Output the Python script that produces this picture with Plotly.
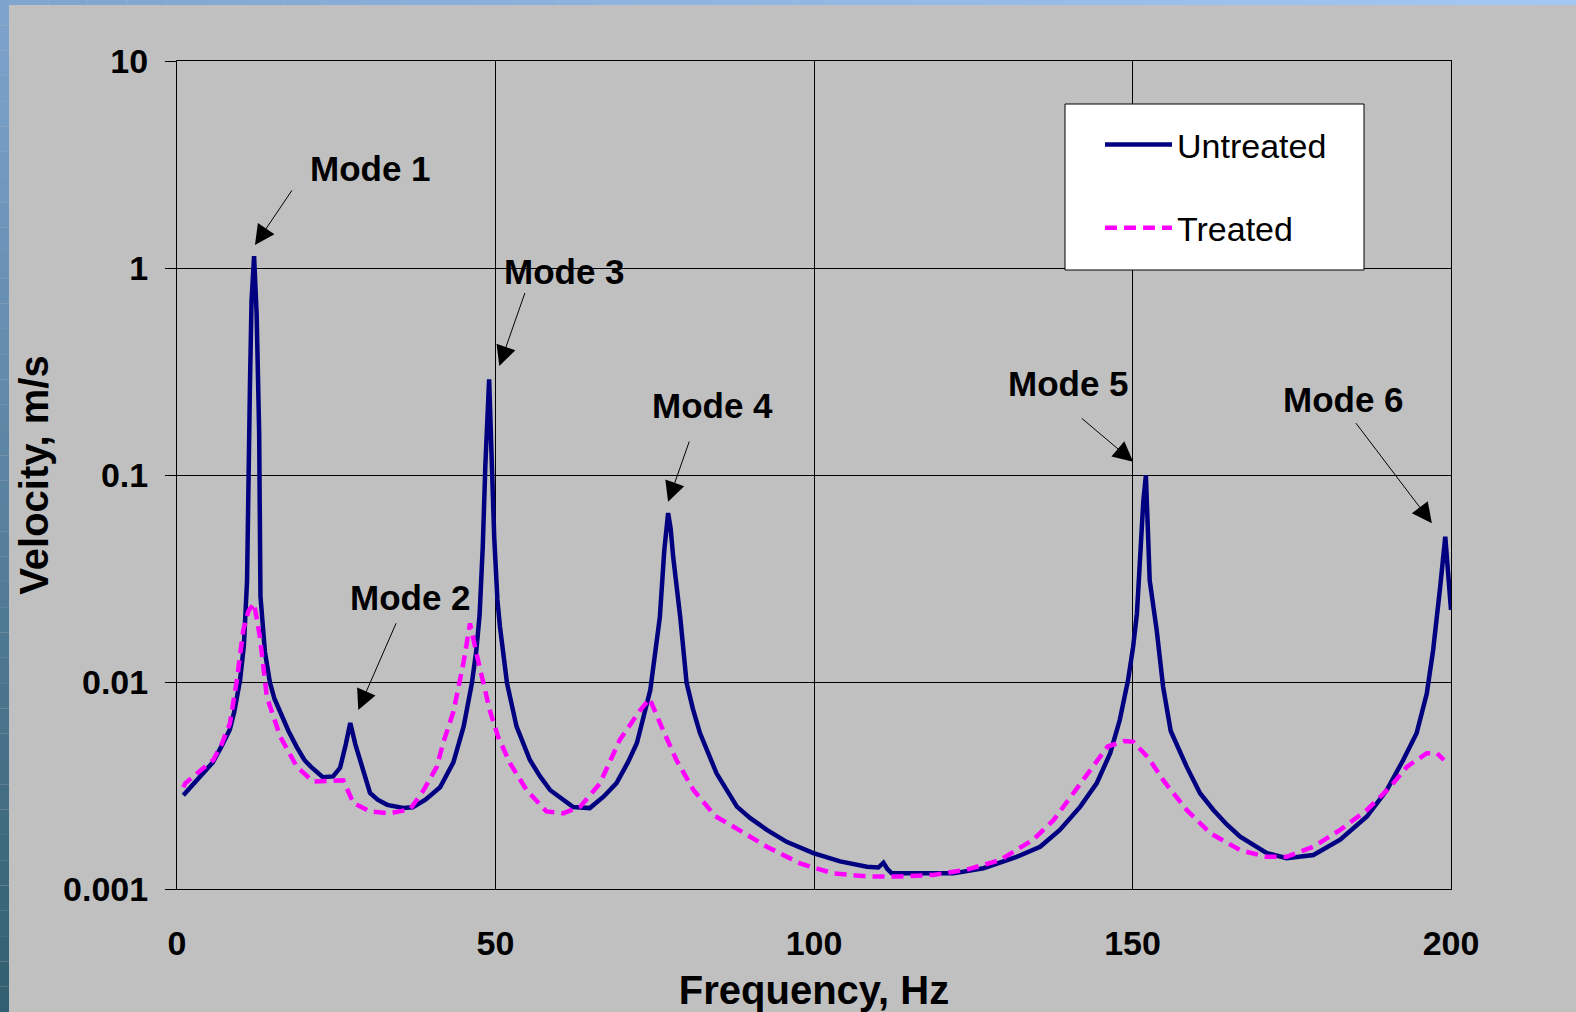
import numpy as np
import plotly.graph_objects as go

# ---------------- data ----------------
untreated_hz = [1.0, 2.5, 4.0, 5.65, 7.0, 8.3, 9.0, 9.9, 10.5, 11.0, 11.45, 11.7, 12.1, 12.5, 12.9, 13.1,
                13.8, 14.6, 15.3, 16.2, 17.5, 18.8, 20.0, 21.0, 22.9, 24.5, 25.6, 26.5, 27.2, 28.0, 28.7,
                30.3, 31.5, 33.0, 35.5, 37.0, 39.0, 41.3, 43.4, 45.0, 46.3, 47.0, 47.5, 48.0, 48.4, 49.0,
                49.4, 49.8, 50.3, 50.7, 51.8, 53.3, 55.4, 57.0, 58.6, 60.5, 62.2, 64.8, 67.0, 69.0, 70.8,
                72.2, 74.3, 75.8, 76.5, 77.1, 77.5, 77.9, 79.0, 80.0, 81.0, 82.1, 84.7, 87.9, 90.0, 92.6,
                95.7, 99.9, 104.1, 108.3, 110.1, 110.9, 111.5, 112.2, 121.9, 126.6, 131.8, 135.5, 138.6,
                141.8, 144.4, 146.5, 148.0, 149.3, 150.1, 150.7, 151.2, 151.7, 152.1, 152.4, 152.7, 153.8,
                154.8, 156.0, 158.5, 160.6, 162.7, 164.8, 166.9, 171.1, 174.2, 178.4, 182.6, 186.8, 189.9,
                192.5, 194.6, 196.2, 197.2, 198.3, 199.1, 200.0]
untreated_v = [0.00284, 0.0032, 0.0036, 0.0041, 0.0049, 0.0059, 0.0072, 0.0102, 0.015, 0.031, 0.27, 0.69,
               1.14, 0.6, 0.16, 0.026, 0.014, 0.0099, 0.0083, 0.0071, 0.0058, 0.00485, 0.0042, 0.0039,
               0.00347, 0.0035, 0.00385, 0.0050, 0.00634, 0.0050, 0.0042, 0.00291, 0.0027, 0.00255,
               0.00246, 0.00248, 0.0027, 0.0031, 0.0041, 0.0061, 0.0099, 0.0143, 0.021, 0.045, 0.11,
               0.29, 0.12, 0.05, 0.025, 0.0185, 0.0099, 0.0061, 0.0042, 0.0035, 0.0030, 0.0027, 0.00249,
               0.00246, 0.0028, 0.00325, 0.0041, 0.00507, 0.00914, 0.0206, 0.0434, 0.0655, 0.055, 0.040,
               0.0206, 0.0099, 0.0074, 0.00567, 0.00362, 0.0025, 0.0022, 0.00193, 0.00169, 0.00149,
               0.00136, 0.00128, 0.00127, 0.00134, 0.00125, 0.00119, 0.00119, 0.00126, 0.00143, 0.0016,
               0.00193, 0.0025, 0.00325, 0.00453, 0.00655, 0.0102, 0.0148, 0.0215, 0.045, 0.075, 0.0995,
               0.06, 0.031, 0.0178, 0.0095, 0.0058, 0.0039, 0.0029, 0.00241, 0.00205, 0.00179, 0.00149,
               0.00141, 0.00146, 0.00173, 0.00224, 0.003, 0.0042, 0.00565, 0.0088, 0.0143, 0.0288, 0.0503,
               0.0223]

treated_hz = [1.0, 1.3, 3.5, 5.7, 7.0, 8.3, 9.4, 10.4, 11.2, 12.1, 13.0, 14.1, 16.2, 18.8, 21.4, 24.5,
              26.1, 27.7, 30.3, 33.4, 36.6, 38.7, 40.8, 41.8, 43.4, 45.0, 46.0, 47.0, 48.1, 49.1, 50.4,
              52.3, 54.9, 58.0, 60.6, 63.3, 66.4, 69.5, 72.7, 74.2, 76.3, 78.4, 81.1, 84.5, 88.2, 92.6,
              97.8, 103.0, 108.3, 113.5, 118.7, 124.0, 129.2, 134.4, 137.6, 140.7, 144.0, 146.1, 148.7,
              150.1, 152.5, 155.0, 158.5, 162.2, 166.9, 171.1, 174.2, 178.4, 182.6, 186.8, 190.5, 193.1,
              196.2, 197.8, 198.9]
treated_v = [0.0031, 0.00324, 0.0037, 0.0042, 0.005, 0.0063, 0.0102, 0.0178, 0.022, 0.024, 0.0166,
             0.0085, 0.00545, 0.0039, 0.0033, 0.00335, 0.00335, 0.0026, 0.00237, 0.00232, 0.00243,
             0.003, 0.0039, 0.0051, 0.0072, 0.0125, 0.0192, 0.0138, 0.0099, 0.0073, 0.00545, 0.00404,
             0.003, 0.00237, 0.00232, 0.0025, 0.00324, 0.00525, 0.0073, 0.0083, 0.00586, 0.0042,
             0.0030, 0.00225, 0.00193, 0.0016, 0.00133, 0.00119, 0.00115, 0.00115, 0.00117, 0.00124,
             0.00138, 0.00173, 0.00215, 0.0029, 0.00404, 0.00488, 0.00519, 0.00515, 0.0043, 0.0033,
             0.00241, 0.00186, 0.00154, 0.00143, 0.00143, 0.0016, 0.00193, 0.00241, 0.00312, 0.0039,
             0.00453, 0.00453, 0.0042]

mode_labels = ["Mode 1", "Mode 2", "Mode 3", "Mode 4", "Mode 5", "Mode 6"]
label_hz = [30.3, 36.6, 60.9, 84.1, 140.0, 183.2]
label_v = [3.01, 0.0255, 0.957, 0.2156, 0.2754, 0.2328]
arrow_tail_hz = [18.2, 34.5, 54.7, 80.5, 141.8, 184.9]
arrow_tail_v = [2.41, 0.01955, 0.77, 0.1476, 0.1905, 0.181]
arrow_head_hz = [12.24, 28.46, 50.6, 77.1, 150.1, 197.0]
arrow_head_v = [1.29, 0.00733, 0.3365, 0.0743, 0.1159, 0.0585]

y_tickvals = [0.001, 0.01, 0.1, 1, 10]
y_ticktext = ["0.001", "0.01", "0.1", "1", "10"]
x_tickvals = [0, 50, 100, 150, 200]

# ---------------- figure ----------------
W, H = 1576, 1012
L, R, T, B = 177, 125, 61, 123
PW, PH = W - L - R, H - T - B
FONT = "Arial, Liberation Sans, sans-serif"
BG = "#c0c0c0"


def px_x(p):
    return (p - L) / PW


def px_y(p):
    return (H - B - p) / PH


fig = go.Figure()
fig.add_trace(go.Scatter(x=untreated_hz, y=untreated_v, mode="lines", name="Untreated",
                         legendgroup="u", line=dict(color="#000080", width=4.5)))
fig.add_trace(go.Scatter(x=treated_hz, y=treated_v, mode="lines", name="Treated",
                         legendgroup="t", line=dict(color="#ff00ff", width=4.5, dash="12px,7px")))

annotations = []
for t, lx, ly in zip(mode_labels, label_hz, label_v):
    annotations.append(dict(x=lx, y=np.log10(ly), xref="x", yref="y", text="<b>%s</b>" % t,
                            showarrow=False, font=dict(family=FONT, size=35, color="black")))
for tx, ty, hx, hy in zip(arrow_tail_hz, arrow_tail_v, arrow_head_hz, arrow_head_v):
    annotations.append(dict(x=hx, y=np.log10(hy), ax=tx, ay=np.log10(ty), xref="x", yref="y",
                            axref="x", ayref="y", text="", showarrow=True, arrowhead=2,
                            arrowsize=4, arrowwidth=1, arrowcolor="black", standoff=0))

# decorative blue gradient frame (left and top edges of the slide)
shapes = []
n = 40
top_c = np.array([0x7e, 0xa4, 0xce])
bot_c = np.array([0x33, 0x60, 0x70])
for i in range(n):
    f = i / (n - 1)
    c = (top_c * (1 - f) + bot_c * f).astype(int)
    shapes.append(dict(type="rect", xref="paper", yref="paper", layer="below",
                       x0=px_x(0), x1=px_x(9), y0=px_y(H * (i + 1) / n), y1=px_y(H * i / n),
                       fillcolor="rgb(%d,%d,%d)" % tuple(c), line=dict(width=0)))
l_c = np.array([0x80, 0xa6, 0xd0])
r_c = np.array([0xa4, 0xc8, 0xf6])
for i in range(n):
    f = i / (n - 1)
    c = (l_c * (1 - f) + r_c * f).astype(int)
    shapes.append(dict(type="rect", xref="paper", yref="paper", layer="below",
                       x0=px_x(9 + (W - 9) * i / n), x1=px_x(9 + (W - 9) * (i + 1) / n),
                       y0=px_y(5), y1=px_y(0),
                       fillcolor="rgb(%d,%d,%d)" % tuple(c), line=dict(width=0)))
# legend box
shapes.append(dict(type="rect", xref="paper", yref="paper", layer="above",
                   x0=px_x(1065), x1=px_x(1364), y0=px_y(270), y1=px_y(104),
                   fillcolor="white", line=dict(color="black", width=1)))

fig.update_layout(
    width=W, height=H, autosize=False,
    margin=dict(l=L, r=R, t=T, b=B, pad=0),
    paper_bgcolor=BG, plot_bgcolor=BG,
    font=dict(family=FONT, color="black"),
    showlegend=True,
    legend=dict(x=px_x(1100), y=px_y(116), xanchor="left", yanchor="top",
                bgcolor="rgba(0,0,0,0)", borderwidth=0,
                font=dict(family=FONT, size=34, color="black"),
                tracegroupgap=36, traceorder="grouped", itemwidth=67),
    annotations=annotations,
    shapes=shapes,
)
fig.update_xaxes(range=[0, 200], tickvals=x_tickvals, showgrid=True, gridcolor="black", gridwidth=1,
                 showline=True, linecolor="black", linewidth=1, mirror=True, zeroline=False,
                 ticks="", ticklabelstandoff=24, automargin=False,
                 tickfont=dict(family=FONT, size=34, color="black", weight="bold"),
                 title=dict(text="<b>Frequency, Hz</b>", standoff=21,
                            font=dict(family=FONT, size=40, color="black")))
fig.update_yaxes(type="log", range=[-3, 1], tickvals=y_tickvals, ticktext=y_ticktext,
                 showgrid=True, gridcolor="black", gridwidth=1,
                 showline=True, linecolor="black", linewidth=1, mirror=True, zeroline=False,
                 ticks="outside", ticklen=11, tickcolor="black", ticklabelstandoff=10, automargin=False,
                 tickfont=dict(family=FONT, size=34, color="black", weight="bold"),
                 title=dict(text="<b>Velocity, m/s</b>", standoff=2,
                            font=dict(family=FONT, size=40, color="black")))

fig.write_html("out.html")
